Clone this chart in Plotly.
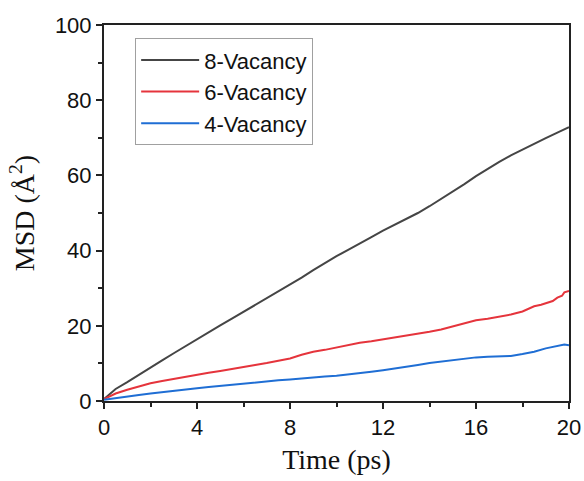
import plotly.graph_objects as go

# Time (ps)
t_8 = [0, 0.5, 1, 1.5, 2, 2.5, 3, 3.5, 4, 4.5, 5, 5.5, 6, 6.5, 7, 7.5, 8, 8.5, 9, 9.5,
       10, 10.5, 11, 11.5, 12, 12.5, 13, 13.5, 14, 14.5, 15, 15.5, 16, 16.5, 17, 17.5,
       18, 18.5, 19, 19.5, 20]
msd_8 = [0.5, 3.2, 5.0, 7.0, 9.0, 10.8, 12.7, 14.6, 16.5, 18.3, 20.1, 21.9, 23.7, 25.5,
         27.3, 29.0, 30.8, 32.8, 34.8, 36.7, 38.5, 40.2, 42.0, 43.6, 45.3, 46.8, 48.4,
         50.0, 51.8, 53.7, 55.6, 57.7, 59.8, 61.8, 63.6, 65.3, 66.9, 68.4, 69.9, 71.4, 72.8]

t_6 = [0, 0.5, 1, 1.5, 2, 2.5, 3, 3.5, 4, 4.5, 5, 5.5, 6, 6.5, 7, 7.5, 8, 8.5, 9, 9.5,
       10, 10.5, 11, 11.5, 12, 12.5, 13, 13.5, 14, 14.5, 15, 15.5, 16, 16.5, 17, 17.5,
       18, 18.5, 18.8, 19, 19.3, 19.5, 19.7, 19.8, 20]
msd_6 = [0.5, 2.0, 3.0, 3.9, 4.7, 5.3, 5.9, 6.4, 6.9, 7.5, 8.0, 8.6, 9.1, 9.6, 10.1,
         10.6, 11.3, 12.3, 13.1, 13.6, 14.2, 15.0, 15.5, 15.9, 16.4, 16.7, 17.2, 17.8,
         18.4, 19.0, 19.8, 20.8, 21.5, 21.9, 22.4, 23.0, 23.8, 25.2, 25.6, 26.0, 26.6,
         27.5, 28.0, 28.9, 29.3]

t_4 = [0, 0.5, 1, 1.5, 2, 2.5, 3, 3.5, 4, 4.5, 5, 5.5, 6, 6.5, 7, 7.5, 8, 8.5, 9, 9.5,
       10, 10.5, 11, 11.5, 12, 12.5, 13, 13.5, 14, 14.5, 15, 15.5, 16, 16.5, 17, 17.5,
       18, 18.5, 19, 19.5, 19.8, 20]
msd_4 = [0.3, 0.8, 1.2, 1.6, 2.0, 2.4, 2.7, 3.1, 3.4, 3.7, 4.0, 4.4, 4.7, 5.0, 5.2, 5.5,
         5.7, 6.0, 6.2, 6.5, 6.7, 7.0, 7.4, 7.8, 8.2, 8.6, 9.1, 9.6, 10.1, 10.5, 10.8,
         11.2, 11.6, 11.8, 11.9, 12.0, 12.5, 13.1, 14.0, 14.6, 15.0, 14.8]

names = ["8-Vacancy", "6-Vacancy", "4-Vacancy"]
colors = ["#454545", "#e5343c", "#1f6ed4"]

x_ticks = [0, 4, 8, 12, 16, 20]
y_ticks = [0, 20, 40, 60, 80, 100]

fig = go.Figure()
for tx, vy, nm, c in zip([t_8, t_6, t_4], [msd_8, msd_6, msd_4], names, colors):
    fig.add_trace(go.Scatter(x=tx, y=vy, mode="lines", name=nm,
                             line=dict(color=c, width=2)))

axis_common = dict(
    showline=True, linecolor="#222222", linewidth=2, mirror=True,
    ticks="outside", ticklen=6, tickwidth=1.5, tickcolor="#222222",
    showgrid=False, zeroline=False, automargin=False,
    tickfont=dict(family="Liberation Sans, Arial", size=22, color="#111111"),
    minor=dict(ticks="outside", ticklen=4, tickwidth=1.5, tickcolor="#222222"),
)

fig.update_xaxes(range=[0, 20], tickmode="array", tickvals=x_ticks,
                 minor_dtick=2,
                 title=dict(text="Time (ps)", standoff=10,
                            font=dict(family="Liberation Serif, Times New Roman", size=28, color="#111111")),
                 **axis_common)
fig.update_yaxes(range=[0, 100], tickmode="array", tickvals=y_ticks,
                 minor_dtick=10,
                 title=dict(text="MSD (Å<sup>2</sup>)", standoff=12,
                            font=dict(family="Liberation Serif, Times New Roman", size=28, color="#111111")),
                 **axis_common)

fig.update_layout(
    width=584, height=481,
    margin=dict(l=104, r=15, t=25, b=80),
    plot_bgcolor="white", paper_bgcolor="white",
    legend=dict(x=0.067, y=0.965, xanchor="left", yanchor="top",
                bordercolor="#a0a0a0", borderwidth=1, bgcolor="white",
                font=dict(family="Liberation Sans, Arial", size=22, color="#111111"),
                tracegroupgap=0, itemwidth=58),
    showlegend=True,
)

fig.write_html("out.html")
